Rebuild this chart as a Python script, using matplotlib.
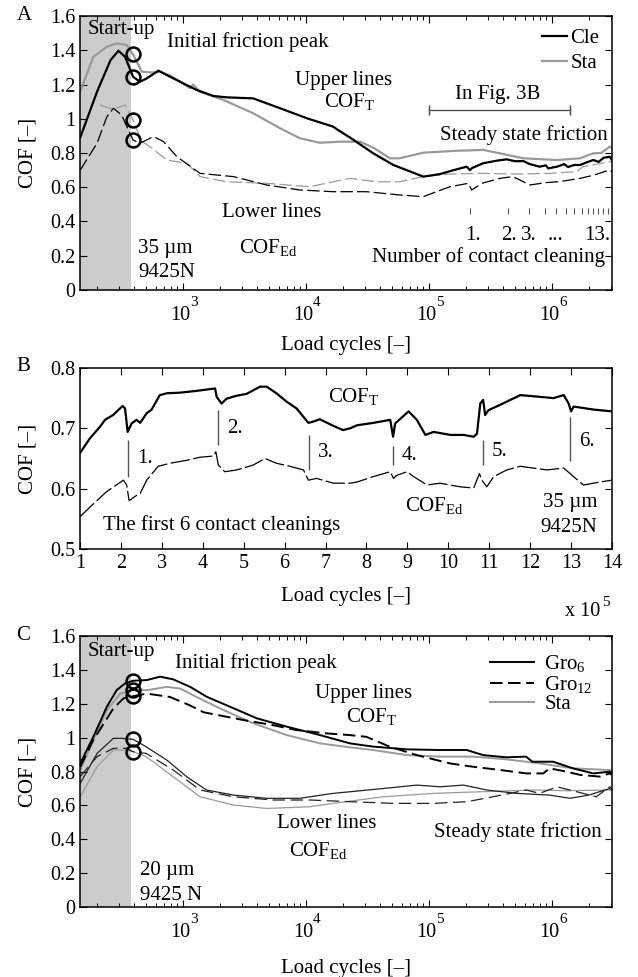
import numpy as np
import matplotlib
matplotlib.use("Agg")
import matplotlib.pyplot as plt
from matplotlib.ticker import FuncFormatter, LogLocator, NullFormatter

plt.rcParams['font.family'] = ['Liberation Serif', 'DejaVu Serif']
plt.rcParams['mathtext.fontset'] = 'custom'
plt.rcParams['mathtext.rm'] = 'Liberation Serif'
plt.rcParams['mathtext.it'] = 'Liberation Serif:italic'
plt.rcParams['font.size'] = 15
plt.rcParams['lines.scale_dashes'] = False

FS = 15      # annotation font size
TFS = 14.5   # tick label font size

# ---------------- Panel A data (x as log10 of load cycles) ----------------
a_cleT_lx = [2.163, 2.30, 2.41, 2.474, 2.528, 2.593, 2.65, 2.705, 2.76, 2.80, 2.867, 2.976, 3.11, 3.246,
             3.355, 3.57, 3.79, 4.006, 4.22, 4.26, 4.358, 4.547, 4.71, 4.954, 5.09, 5.20, 5.307, 5.333,
             5.35, 5.44, 5.55, 5.63, 5.70, 5.767, 5.82, 5.90, 5.95, 5.97, 6.04, 6.10, 6.13, 6.18, 6.23,
             6.28, 6.336, 6.38, 6.42, 6.47, 6.488]
a_cleT_v = [0.89, 1.158, 1.343, 1.397, 1.362, 1.245, 1.216, 1.236, 1.262, 1.281, 1.255, 1.216, 1.168, 1.133,
            1.125, 1.119, 1.061, 1.003, 0.954, 0.934, 0.89, 0.798, 0.730, 0.662, 0.677, 0.700, 0.72, 0.70,
            0.712, 0.74, 0.755, 0.763, 0.752, 0.753, 0.735, 0.72, 0.728, 0.71, 0.72, 0.735, 0.718, 0.73, 0.73,
            0.745, 0.759, 0.748, 0.772, 0.778, 0.76]
a_staT_lx = [2.163, 2.27, 2.38, 2.46, 2.542, 2.593, 2.664, 2.75, 2.813, 2.90, 2.976, 3.057, 3.08, 3.138,
             3.328, 3.57, 3.79, 3.95, 4.11, 4.276, 4.44, 4.55, 4.683, 4.76, 4.954, 5.225, 5.44, 5.577,
             5.767, 6.04, 6.228, 6.336, 6.40, 6.47, 6.488]
a_staT_v = [1.158, 1.362, 1.421, 1.44, 1.431, 1.376, 1.275, 1.27, 1.275, 1.25, 1.216, 1.178, 1.20, 1.158,
            1.11, 1.032, 0.944, 0.886, 0.86, 0.866, 0.866, 0.83, 0.769, 0.769, 0.802, 0.813, 0.818, 0.798,
            0.769, 0.759, 0.769, 0.798, 0.80, 0.837, 0.83]
a_cleE_lx = [2.163, 2.30, 2.38, 2.433, 2.50, 2.555, 2.593, 2.65, 2.758, 2.84, 2.95, 3.138, 3.41, 3.68,
             3.95, 4.22, 4.49, 4.76, 4.954, 5.17, 5.32, 5.347, 5.43, 5.577, 5.68, 5.74, 5.82, 5.95,
             6.065, 6.23, 6.336, 6.47, 6.488]
a_cleE_v = [0.70, 0.857, 1.012, 1.061, 1.022, 0.934, 0.876, 0.857, 0.896, 0.867, 0.778, 0.681, 0.662, 0.613,
            0.584, 0.574, 0.574, 0.555, 0.545, 0.603, 0.623, 0.584, 0.623, 0.652, 0.662, 0.642, 0.613, 0.627,
            0.633, 0.652, 0.67, 0.701, 0.69]
a_staE_lx = [2.325, 2.433, 2.528, 2.593, 2.66, 2.73, 2.867, 3.03, 3.138, 3.355, 3.68, 4.03, 4.22, 4.358,
             4.574, 4.76, 4.954, 5.17, 5.44, 5.71, 5.98, 6.20, 6.255, 6.47, 6.488]
a_staE_v = [1.08, 1.055, 1.08, 0.993, 0.87, 0.837, 0.759, 0.74, 0.662, 0.632, 0.623, 0.603, 0.632, 0.652,
            0.632, 0.632, 0.662, 0.677, 0.681, 0.677, 0.681, 0.691, 0.72, 0.749, 0.75]
a_circle_lx = 2.593
a_circle_v = [1.376, 1.245, 0.993, 0.876]
a_startup_end = 380
cleanings = [2.17e5, 4.35e5, 6.52e5, 8.7e5, 1.087e6, 1.305e6, 1.52e6, 1.74e6, 1.96e6, 2.17e6, 2.39e6,
             2.61e6, 2.83e6]
cleaning_labels = ['1.', '2.', '3.', '...', '13.']
cleaning_label_lx = [5.355, 5.648, 5.81, 6.025, 6.366]

# ---------------- Panel B data ----------------
b_T_x = [1.0, 1.244, 1.49, 1.61, 1.81, 2.04, 2.10, 2.165, 2.26, 2.38, 2.47, 2.63, 2.75, 2.95, 3.12, 3.44,
         3.85, 4.30, 4.34, 4.46, 4.58, 4.83, 5.07, 5.40, 5.56, 5.80, 6.05, 6.29, 6.46, 6.58, 6.70, 6.86,
         7.19, 7.43, 7.60, 7.77, 8.17, 8.58, 8.65, 8.70, 9.03, 9.23, 9.44, 9.64, 10.05, 10.37, 10.62,
         10.70, 10.78, 10.85, 10.90, 10.98, 11.27, 11.76, 12.25, 12.57, 12.82, 12.94, 13.0, 13.06, 13.55, 14.0]
b_T_v = [0.659, 0.6835, 0.7027, 0.714, 0.722, 0.737, 0.733, 0.694, 0.708, 0.714, 0.709, 0.725, 0.731, 0.755,
         0.758, 0.759, 0.762, 0.766, 0.752, 0.741, 0.749, 0.754, 0.757, 0.769, 0.769, 0.758, 0.744, 0.733,
         0.719, 0.709, 0.711, 0.715, 0.704, 0.697, 0.700, 0.705, 0.709, 0.714, 0.686, 0.708, 0.728, 0.714,
         0.689, 0.694, 0.689, 0.689, 0.686, 0.691, 0.741, 0.747, 0.722, 0.730, 0.739, 0.755, 0.752, 0.75,
         0.755, 0.741, 0.728, 0.736, 0.731, 0.728]
b_E_x = [1.0, 1.33, 1.65, 2.06, 2.14, 2.20, 2.34, 2.47, 2.63, 2.91, 3.20, 3.61, 3.93, 4.26, 4.32, 4.38,
         4.54, 4.83, 5.23, 5.52, 5.80, 6.13, 6.46, 6.58, 6.78, 7.19, 7.60, 7.77, 8.17, 8.58, 8.66, 8.74,
         8.99, 9.15, 9.48, 9.80, 10.29, 10.62, 10.76, 10.82, 10.94, 11.11, 11.43, 11.76, 12.08, 12.41,
         12.82, 13.06, 13.30, 13.71, 14.0]
b_E_v = [0.5535, 0.575, 0.595, 0.614, 0.606, 0.580, 0.587, 0.592, 0.614, 0.637, 0.642, 0.647, 0.652, 0.654,
         0.661, 0.639, 0.628, 0.631, 0.639, 0.650, 0.642, 0.637, 0.631, 0.614, 0.617, 0.609, 0.609, 0.611,
         0.620, 0.628, 0.617, 0.622, 0.628, 0.620, 0.606, 0.609, 0.603, 0.601, 0.625, 0.614, 0.603, 0.620,
         0.631, 0.637, 0.634, 0.631, 0.634, 0.620, 0.606, 0.611, 0.614]
b_mark_x = [2.17, 4.38, 6.60, 8.65, 10.85, 12.98]
b_mark_lo = [0.620, 0.673, 0.631, 0.639, 0.639, 0.645]
b_mark_hi = [0.681, 0.731, 0.689, 0.670, 0.681, 0.718]
b_mark_labels = ['1.', '2.', '3.', '4.', '5.', '6.']
b_label_y = [0.650, 0.700, 0.660, 0.655, 0.662, 0.678]

# ---------------- Panel C data ----------------
c_g6T_lx = [2.163, 2.27, 2.38, 2.46, 2.528, 2.593, 2.705, 2.813, 2.92, 3.057, 3.193, 3.38, 3.60, 3.843,
            4.114, 4.358, 4.547, 4.82, 5.09, 5.307, 5.44, 5.63, 5.79, 5.84, 6.01, 6.17, 6.336, 6.47, 6.488]
c_g6T_v = [0.848, 1.005, 1.183, 1.281, 1.32, 1.336, 1.34, 1.36, 1.344, 1.30, 1.241, 1.183, 1.114, 1.065,
           1.015, 0.966, 0.947, 0.931, 0.927, 0.927, 0.897, 0.884, 0.888, 0.858, 0.858, 0.819, 0.789, 0.799, 0.79]
c_staT_lx = [2.163, 2.27, 2.38, 2.49, 2.593, 2.705, 2.867, 2.976, 3.11, 3.328, 3.57, 3.843, 4.114, 4.358,
             4.547, 4.82, 5.09, 5.36, 5.63, 5.90, 6.17, 6.47, 6.488]
c_staT_v = [0.809, 0.986, 1.163, 1.26, 1.281, 1.28, 1.30, 1.29, 1.24, 1.163, 1.085, 1.015, 0.966, 0.943,
            0.927, 0.897, 0.888, 0.888, 0.872, 0.848, 0.819, 0.809, 0.805]
c_g12T_lx = [2.163, 2.27, 2.433, 2.515, 2.593, 2.705, 2.80, 2.894, 3.057, 3.166, 3.328, 3.49, 3.73, 3.92,
             4.17, 4.358, 4.49, 4.68, 4.90, 5.17, 5.36, 5.58, 5.79, 5.93, 5.98, 6.12, 6.23, 6.39, 6.47, 6.488]
c_g12T_v = [0.828, 0.986, 1.173, 1.232, 1.245, 1.26, 1.25, 1.24, 1.19, 1.15, 1.127, 1.104, 1.074, 1.045,
            1.025, 1.015, 1.005, 0.947, 0.897, 0.848, 0.828, 0.809, 0.789, 0.789, 0.819, 0.799, 0.78, 0.77,
            0.789, 0.78]
c_g6E_lx = [2.163, 2.30, 2.433, 2.50, 2.593, 2.677, 2.867, 3.03, 3.19, 3.41, 3.68, 3.95, 4.22, 4.63, 4.90,
            5.09, 5.28, 5.47, 5.713, 5.98, 6.146, 6.30, 6.47, 6.488]
c_g6E_v = [0.730, 0.907, 0.996, 0.996, 0.99, 0.956, 0.868, 0.769, 0.691, 0.661, 0.642, 0.642, 0.671, 0.70,
           0.72, 0.71, 0.72, 0.691, 0.671, 0.661, 0.642, 0.661, 0.70, 0.69]
c_g12E_lx = [2.163, 2.30, 2.433, 2.54, 2.593, 2.70, 2.92, 3.138, 3.41, 3.73, 4.03, 4.358, 4.71, 5.036,
             5.31, 5.52, 5.66, 5.79, 5.90, 6.04, 6.20, 6.36, 6.47, 6.488]
c_g12E_v = [0.77, 0.888, 0.937, 0.937, 0.917, 0.907, 0.809, 0.691, 0.651, 0.632, 0.632, 0.622, 0.612, 0.612,
            0.622, 0.651, 0.671, 0.691, 0.671, 0.710, 0.681, 0.651, 0.71, 0.70]
c_staE_lx = [2.163, 2.30, 2.433, 2.54, 2.593, 2.70, 2.92, 3.138, 3.41, 3.68, 4.03, 4.22, 4.63, 5.036, 5.44,
             5.85, 6.12, 6.47, 6.488]
c_staE_v = [0.651, 0.828, 0.927, 0.927, 0.917, 0.888, 0.769, 0.651, 0.602, 0.582, 0.592, 0.612, 0.651,
            0.671, 0.681, 0.691, 0.687, 0.691, 0.69]
c_circle_lx = 2.593
c_circle_v = [1.336, 1.281, 1.245, 0.99, 0.917]
c_startup_end = 375

log_decades = [3, 4, 5, 6]

GRAY = '#9a9a9a'
SHADE = '#cccccc'
XLIM = (145, 3.08e6)


def p(lx):
    return 10 ** np.asarray(lx)


fig = plt.figure(figsize=(6.38, 9.77), dpi=100)
axA = fig.add_axes([0.1254, 0.7032, 0.8339, 0.2804])
axB = fig.add_axes([0.1254, 0.4381, 0.8339, 0.1853])
axC = fig.add_axes([0.1254, 0.0716, 0.8339, 0.2774])

gfmt = FuncFormatter(lambda v, pos: '%g' % v)


def style_log(ax, xlab_y):
    ax.set_xscale('log')
    ax.set_xlim(*XLIM)
    ax.set_ylim(0, 1.6)
    ax.set_yticks(np.arange(0, 1.61, 0.2))
    ax.yaxis.set_major_formatter(gfmt)
    ax.xaxis.set_major_locator(LogLocator(base=10, numticks=12))
    ax.xaxis.set_minor_locator(LogLocator(base=10, subs=np.arange(2, 10), numticks=12))
    ax.xaxis.set_major_formatter(NullFormatter())
    ax.xaxis.set_minor_formatter(NullFormatter())
    for k in log_decades:
        ax.annotate('10', xy=(10.0 ** k, 0), xycoords=('data', 'axes fraction'), xytext=(-3, -16),
                    textcoords='offset pixels', ha='center', va='top', fontsize=TFS)
        ax.annotate(str(k), xy=(10.0 ** k, 0), xycoords=('data', 'axes fraction'), xytext=(7, -6),
                    textcoords='offset pixels', ha='left', va='top', fontsize=11)
    ax.set_xlabel('Load cycles [–]')
    ax.xaxis.set_label_coords(0.5, xlab_y)
    ax.xaxis.label.set_va('center')
    ax.set_ylabel('COF [–]')
    ax.yaxis.set_label_coords(-0.08, 0.5)


for ax in (axA, axB, axC):
    ax.tick_params(which='both', direction='in', top=True, right=True, labelsize=TFS)
    ax.tick_params(which='major', length=5, width=0.8)
    ax.tick_params(which='minor', length=3, width=0.7)
    for s in ax.spines.values():
        s.set_linewidth(1.1)

# ---------------- Panel A ----------------
style_log(axA, -0.201)
axA.axvspan(XLIM[0], a_startup_end, color=SHADE, lw=0, zorder=0)
axA.plot(p(a_staE_lx), a_staE_v, color=GRAY, lw=0.9, dashes=(9, 3))
axA.plot(p(a_cleE_lx), a_cleE_v, color='black', lw=0.9, dashes=(9, 3))
axA.plot(p(a_staT_lx), a_staT_v, color=GRAY, lw=1.6, label='Sta')
axA.plot(p(a_cleT_lx), a_cleT_v, color='black', lw=1.6, label='Cle')
axA.plot(np.full(len(a_circle_v), p(a_circle_lx)), a_circle_v, 'o', ms=10, mfc='none', mec='black', mew=1.8)
axA.plot([1e5, 1.4e6], [1.05, 1.05], color='#444444', lw=0.9, marker='|', ms=7)
axA.text(3.6e5, 1.14, 'In Fig. 3B', ha='center', va='center', fontsize=FS)
axA.plot(cleanings, np.full(len(cleanings), 0.463), ls='none', marker='|', ms=4, color='#555555', mew=0.8)
for lbl, lx in zip(cleaning_labels, cleaning_label_lx):
    axA.text(10 ** lx, 0.292, lbl, ha='center', va='baseline', fontsize=FS)
axA.text(10 ** 6.43, 0.195, 'Number of contact cleaning', ha='right', va='center', fontsize=FS)
axA.text(10 ** 2.496, 1.52, 'Start-up', ha='center', va='center', fontsize=FS)
axA.text(741, 1.446, 'Initial friction peak', ha='left', va='center', fontsize=FS)
axA.text(2.0e4, 1.225, 'Upper lines', ha='center', va='center', fontsize=FS)
axA.text(2.28e4, 1.07, r'COF$_{\mathrm{T}}$', ha='center', va='baseline', fontsize=FS)
axA.text(10 ** 6.455, 0.905, 'Steady state friction', ha='right', va='center', fontsize=FS)
axA.text(5.3e3, 0.454, 'Lower lines', ha='center', va='center', fontsize=FS)
axA.text(4.9e3, 0.25, r'COF$_{\mathrm{Ed}}$', ha='center', va='center', fontsize=FS)
axA.text(430, 0.24, '35 µm', ha='left', va='center', fontsize=FS)
axA.text(430, 0.10, '9425N', ha='left', va='center', fontsize=FS)
h, l = axA.get_legend_handles_labels()
axA.legend(h[::-1], l[::-1], loc='upper right', bbox_to_anchor=(0.976, 0.955), frameon=False,
           handlelength=1.2, handletextpad=0.15, labelspacing=0.28, borderaxespad=0, borderpad=0,
           fontsize=FS)

# ---------------- Panel B ----------------
axB.set_xlim(1, 14)
axB.set_ylim(0.5, 0.8)
axB.set_xticks(np.arange(1, 15))
axB.set_yticks([0.5, 0.6, 0.7, 0.8])
axB.yaxis.set_major_formatter(gfmt)
axB.plot(b_E_x, b_E_v, color='black', lw=0.9, dashes=(14, 2.5))
axB.plot(b_T_x, b_T_v, color='black', lw=1.6)
axB.vlines(b_mark_x, b_mark_lo, b_mark_hi, color='#555555', lw=1.0)
for x, lbl, y in zip(b_mark_x, b_mark_labels, b_label_y):
    axB.text(x + 0.22, y, lbl, ha='left', va='center', fontsize=FS)
axB.text(7.70, 0.752, r'COF$_{\mathrm{T}}$', ha='center', va='center', fontsize=FS)
axB.text(9.65, 0.572, r'COF$_{\mathrm{Ed}}$', ha='center', va='center', fontsize=FS)
axB.text(1.56, 0.540, 'The first 6 contact cleanings', ha='left', va='center', fontsize=FS)
axB.text(13.65, 0.577, '35 µm', ha='right', va='center', fontsize=FS)
axB.text(13.65, 0.536, '9425N', ha='right', va='center', fontsize=FS)
axB.set_xlabel('Load cycles [–]')
axB.xaxis.set_label_coords(0.5, -0.26)
axB.xaxis.label.set_va('center')
axB.set_ylabel('COF [–]')
axB.yaxis.set_label_coords(-0.08, 0.5)
axB.text(0.977, -0.348, 'x 10', transform=axB.transAxes, ha='right', va='center', fontsize=TFS)
axB.text(0.981, -0.298, '5', transform=axB.transAxes, ha='left', va='center', fontsize=11)

# ---------------- Panel C ----------------
style_log(axC, -0.226)
axC.axvspan(XLIM[0], c_startup_end, color=SHADE, lw=0, zorder=0)
axC.plot(p(c_staE_lx), c_staE_v, color=GRAY, lw=0.9)
axC.plot(p(c_g12E_lx), c_g12E_v, color='#222222', lw=0.9, dashes=(9, 4))
axC.plot(p(c_g6E_lx), c_g6E_v, color='#222222', lw=0.9)
axC.plot(p(c_staT_lx), c_staT_v, color=GRAY, lw=1.4, label='Sta')
axC.plot(p(c_g12T_lx), c_g12T_v, color='black', lw=1.4, dashes=(9, 4), label=r'Gro$_{12}$')
axC.plot(p(c_g6T_lx), c_g6T_v, color='black', lw=1.4, label=r'Gro$_{6}$')
axC.plot(np.full(len(c_circle_v), p(c_circle_lx)), c_circle_v, 'o', ms=10, mfc='none', mec='black', mew=1.8)
axC.text(10 ** 2.496, 1.507, 'Start-up', ha='center', va='center', fontsize=FS)
axC.text(861, 1.44, 'Initial friction peak', ha='left', va='center', fontsize=FS)
axC.text(2.95e4, 1.263, 'Upper lines', ha='center', va='center', fontsize=FS)
axC.text(3.44e4, 1.123, r'COF$_{\mathrm{T}}$', ha='center', va='center', fontsize=FS)
axC.text(10 ** 6.406, 0.445, 'Steady state friction', ha='right', va='center', fontsize=FS)
axC.text(1.48e4, 0.495, 'Lower lines', ha='center', va='center', fontsize=FS)
axC.text(1.26e4, 0.335, r'COF$_{\mathrm{Ed}}$', ha='center', va='center', fontsize=FS)
axC.text(10 ** 2.65, 0.218, '20 µm', ha='left', va='center', fontsize=FS)
axC.text(10 ** 2.65, 0.07, '9425 N', ha='left', va='center', fontsize=FS)
h, l = axC.get_legend_handles_labels()
axC.legend(h[::-1], l[::-1], loc='upper right', bbox_to_anchor=(0.964, 0.938), frameon=False,
           handlelength=2.1, handletextpad=0.5, labelspacing=0.0, borderaxespad=0, borderpad=0,
           fontsize=FS)

for ax, lab in ((axA, 'A'), (axB, 'B'), (axC, 'C')):
    bb = ax.get_position()
    fig.text(0.026, bb.y1 + 0.001, lab, ha='left', va='center', fontsize=FS)

fig.savefig('out.png', dpi=100)
